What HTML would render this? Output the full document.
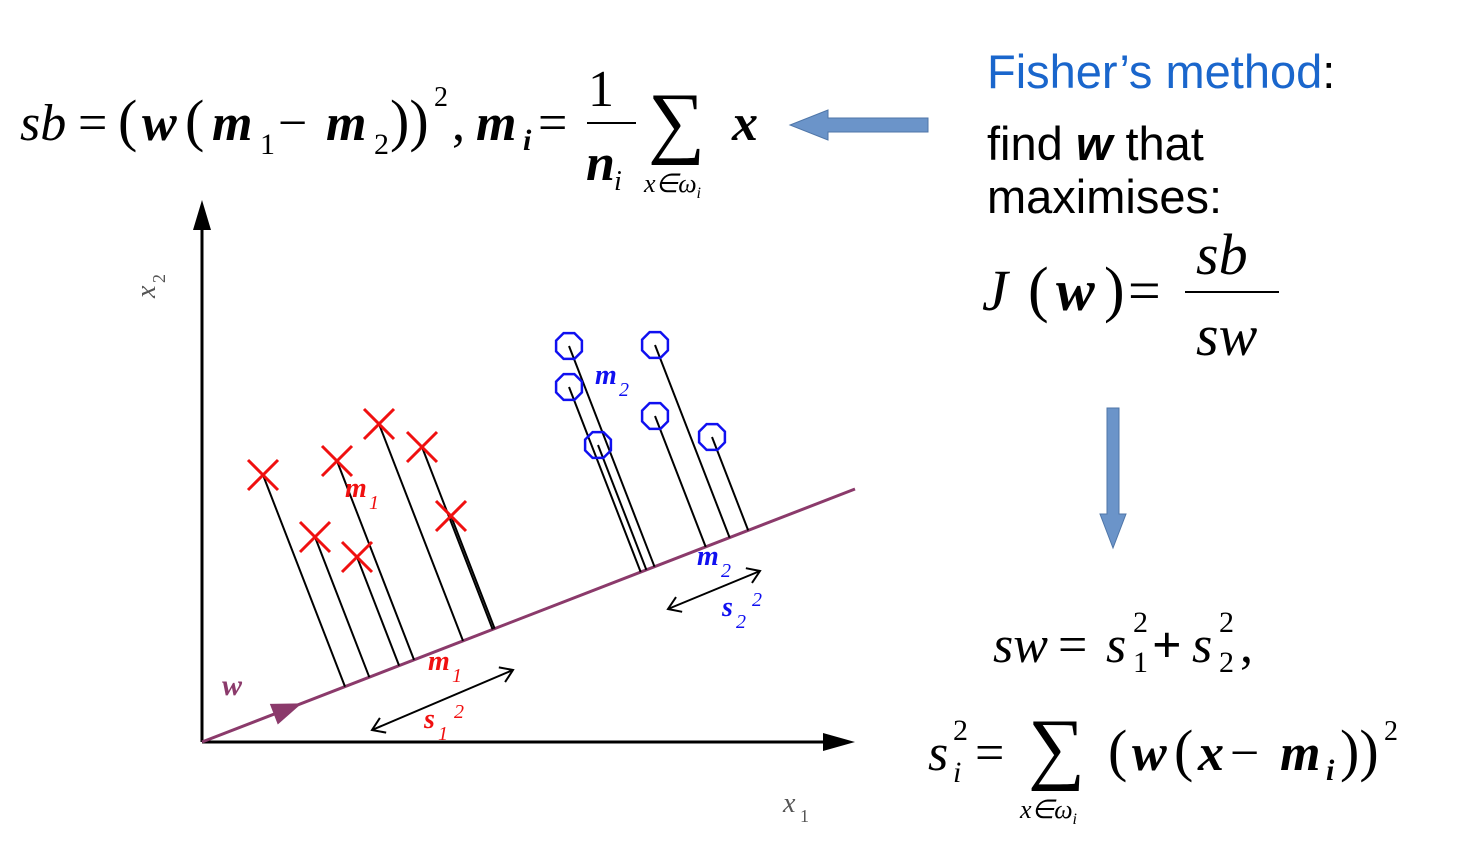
<!DOCTYPE html>
<html><head><meta charset="utf-8"><style>
html,body{margin:0;padding:0;background:#fff;}
svg{display:block;}
.m{font-family:"Liberation Serif",serif;font-style:italic;}
.b{font-weight:bold;}
.s{font-family:"Liberation Sans",sans-serif;}
</style></head><body>
<svg id="fig" width="1468" height="852" viewBox="0 0 1468 852">
<g class="m" font-size="52" fill="#000">
 <text x="20" y="140">sb</text>
 <text x="78" y="140" font-style="normal">=</text>
 <text x="118" y="140" font-style="normal" font-size="58">(</text>
 <text x="142" y="140" class="b">w</text>
 <text x="185" y="140" font-style="normal" font-size="58">(</text>
 <text x="212" y="140" class="b">m</text>
 <text x="260" y="154" font-style="normal" font-size="30">1</text>
 <text x="278" y="140" font-style="normal">−</text>
 <text x="326" y="140" class="b">m</text>
 <text x="374" y="154" font-style="normal" font-size="30">2</text>
 <text x="390" y="140" font-style="normal" font-size="58">))</text>
 <text x="434" y="106" font-style="normal" font-size="28">2</text>
 <text x="452" y="140" font-style="normal">,</text>
 <text x="476" y="140" class="b">m</text>
 <text x="523" y="150" font-size="30" class="b">i</text>
 <text x="538" y="140" font-style="normal">=</text>
 <text x="588" y="106" font-style="normal">1</text>
 <line x1="587" y1="123" x2="636" y2="123" stroke="#000" stroke-width="2"/>
 <text x="586" y="180" class="b">n</text>
 <text x="614" y="190" font-size="28">i</text>
 <text x="648" y="148" font-style="normal" font-size="80">∑</text>
 <text x="644" y="192" font-size="26">x∈ω<tspan font-size="16" dy="6">i</tspan></text>
 <text x="732" y="140" class="b">x</text>
</g>
<g>
 <polygon points="928,118 828,118 828,110 790,125 828,140 828,132 928,132" fill="#6b94c9" stroke="#4f76a8" stroke-width="1"/>
</g>
<g class="s" font-size="47">
 <text x="987" y="88" fill="#1a66cc">Fisher’s method<tspan fill="#000">:</tspan></text>
 <text x="987" y="160" fill="#000">find <tspan font-weight="bold" font-style="italic">w</tspan> that</text>
 <text x="987" y="213" fill="#000">maximises:</text>
</g>
<g class="m" font-size="58" fill="#000">
 <text x="982" y="310">J</text>
 <text x="1028" y="310" font-style="normal" font-size="62">(</text>
 <text x="1056" y="310" class="b">w</text>
 <text x="1104" y="310" font-style="normal" font-size="62">)</text>
 <text x="1128" y="310" font-style="normal">=</text>
 <text x="1196" y="274">sb</text>
 <line x1="1185" y1="292" x2="1279" y2="292" stroke="#000" stroke-width="2"/>
 <text x="1196" y="355">sw</text>
</g>
<g>
 <polygon points="1107,408 1119,408 1119,514 1126,514 1113,548 1100,514 1107,514" fill="#6b94c9" stroke="#4f76a8" stroke-width="1"/>
</g>
<g class="m" font-size="52" fill="#000">
 <text x="993" y="662">sw</text>
 <text x="1058" y="662" font-style="normal">=</text>
 <text x="1106" y="662">s</text>
 <text x="1133" y="632" font-style="normal" font-size="30">2</text>
 <text x="1133" y="672" font-style="normal" font-size="30">1</text>
 <text x="1152" y="662" font-style="normal" font-weight="bold">+</text>
 <text x="1192" y="662">s</text>
 <text x="1219" y="632" font-style="normal" font-size="30">2</text>
 <text x="1219" y="672" font-style="normal" font-size="30">2</text>
 <text x="1240" y="662" font-style="normal">,</text>
</g>
<g class="m" font-size="52" fill="#000">
 <text x="928" y="770">s</text>
 <text x="953" y="740" font-style="normal" font-size="30">2</text>
 <text x="953" y="782" font-size="30">i</text>
 <text x="975" y="770" font-style="normal">=</text>
 <text x="1028" y="774" font-style="normal" font-size="80">∑</text>
 <text x="1020" y="818" font-size="26">x∈ω<tspan font-size="16" dy="6">i</tspan></text>
 <text x="1108" y="770" font-style="normal" font-size="58">(</text>
 <text x="1132" y="770" class="b">w</text>
 <text x="1174" y="770" font-style="normal" font-size="58">(</text>
 <text x="1198" y="770" class="b">x</text>
 <text x="1230" y="770" font-style="normal">−</text>
 <text x="1280" y="770" class="b">m</text>
 <text x="1326" y="780" font-size="30" class="b">i</text>
 <text x="1340" y="770" font-style="normal" font-size="58">))</text>
 <text x="1384" y="740" font-style="normal" font-size="28">2</text>
</g>
<g id="chart"></g>
</svg>
<script>
const class1X = [61,135,177,220,249,113,155];
const class1Y = [267,281,318,295,226,205,185];
const class2X = [367,453,367,453,396,510];
const class2Y = [396,397,355,326,297,305];
const wDir = [653,253];
const OX=202, OY=742;
const sx = v => OX + v;
const sy = v => OY - v;
const NS="http://www.w3.org/2000/svg";
const g=document.getElementById('chart');
function mk(tag,attrs,parent){const e=document.createElementNS(NS,tag);for(const k in attrs)e.setAttribute(k,attrs[k]);(parent||g).appendChild(e);return e;}
const L=Math.hypot(wDir[0],wDir[1]); const ux=wDir[0]/L, uy=wDir[1]/L;
let a=mk('line',{x1:OX,y1:OY,x2:OX,y2:225,stroke:'#000','stroke-width':3});


let ah=mk('polygon',{points:`${OX},200 ${OX-9},230 ${OX+9},230`,fill:'#000'});


let xa=mk('line',{x1:OX,y1:OY,x2:830,y2:OY,stroke:'#000','stroke-width':3});


let xh=mk('polygon',{points:`855,${OY} 823,${OY-9} 823,${OY+9}`,fill:'#000'});


let xl=mk('text',{x:783,y:812,'font-family':'Liberation Serif,serif','font-style':'italic','font-size':28,fill:'#555'});xl.textContent='x';


mk('text',{x:800,y:822,'font-family':'Liberation Serif,serif','font-size':18,fill:'#555'},g).textContent='1';
let yl=mk('text',{x:0,y:0,'font-family':'Liberation Serif,serif','font-style':'italic','font-size':28,fill:'#555',transform:'translate(155,298) rotate(-90)'});yl.textContent='x';


mk('text',{x:0,y:0,'font-family':'Liberation Serif,serif','font-size':18,fill:'#555',transform:'translate(165,283) rotate(-90)'}).textContent='2';
let wl=mk('line',{x1:sx(0),y1:sy(0),x2:sx(wDir[0]),y2:sy(wDir[1]),stroke:'#8b3a6b','stroke-width':3});


const at=95;
let wa=mk('polygon',{points:`${sx(ux*(at+12))},${sy(uy*(at+12))} ${sx(ux*(at-18)-uy*11)},${sy(uy*(at-18)+ux*11)} ${sx(ux*(at-18)+uy*11)},${sy(uy*(at-18)-ux*11)}`,fill:'#8b3a6b'});


let wt=mk('text',{x:222,y:695,'font-family':'Liberation Serif,serif','font-style':'italic','font-weight':'bold','font-size':30,fill:'#8b3a6b'});wt.textContent='w';


function proj(x,y){const t=x*ux+y*uy;return [t*ux,t*uy];}
function drawClass(X,Y,cls){
 for(let i=0;i<X.length;i++){
  const p=proj(X[i],Y[i]);
  const ln=mk('line',{x1:sx(X[i]),y1:sy(Y[i]),x2:sx(p[0]),y2:sy(p[1]),stroke:'#000','stroke-width':2});
  
  
 }
 for(let i=0;i<X.length;i++){
  const cx=sx(X[i]),cy=sy(Y[i]);let m;
  if(cls==='class1'){
   m=mk('path',{d:`M${cx-15},${cy-15}L${cx+15},${cy+15}M${cx+15},${cy-15}L${cx-15},${cy+15}`,stroke:'#f01010','stroke-width':3,fill:'none'});
  } else {
   let pts=[];for(let k=0;k<8;k++){const an=Math.PI/8+k*Math.PI/4;pts.push((cx+14*Math.cos(an)).toFixed(1)+','+(cy+14*Math.sin(an)).toFixed(1));}
   m=mk('polygon',{points:pts.join(' '),stroke:'#1010f0','stroke-width':2.5,fill:'none'});
  }
  
  
 }
}
drawClass(class1X,class1Y,'class1');
drawClass(class2X,class2Y,'class2');
function lab(x,y,t,sub,col,name,sup){
 const e=mk('text',{x:x,y:y,'font-family':'Liberation Serif,serif','font-style':'italic','font-weight':'bold','font-size':28,fill:col});
 e.textContent=t;
 
 
 mk('text',{x:x+(t==='m'?24:14),y:y+12,'font-family':'Liberation Serif,serif','font-style':'italic','font-size':20,fill:col}).textContent=sub;
 if(sup)mk('text',{x:x+30,y:y-10,'font-family':'Liberation Serif,serif','font-style':'italic','font-size':20,fill:col}).textContent=sup;
}
lab(345,497,'m','1','#f01010','m1-label');
lab(595,384,'m','2','#1010f0','m2-label');
lab(428,670,'m','1','#f01010','m1-projected-label');
lab(697,565,'m','2','#1010f0','m2-projected-label');
lab(424,728,'s','1','#f01010','s1-squared-label','2');
lab(722,616,'s','2','#1010f0','s2-squared-label','2');
function dbl(x1,y1,x2,y2,name){
 const l=mk('line',{x1,y1,x2,y2,stroke:'#000','stroke-width':2});
 
 
 const dx=x2-x1,dy=y2-y1,d=Math.hypot(dx,dy),ex=dx/d,ey=dy/d;
 [[x1,y1,-1],[x2,y2,1]].forEach(([x,y,s])=>{
  mk('path',{d:`M${x-s*ex*12-ey*8},${y-s*ey*12+ex*8}L${x},${y}L${x-s*ex*12+ey*8},${y-s*ey*12-ex*8}`,stroke:'#000','stroke-width':2,fill:'none'});
 });
}
dbl(372,730,513,670,'s1-spread-arrow');
dbl(668,609,760,571,'s2-spread-arrow');
</script>
</body></html>
